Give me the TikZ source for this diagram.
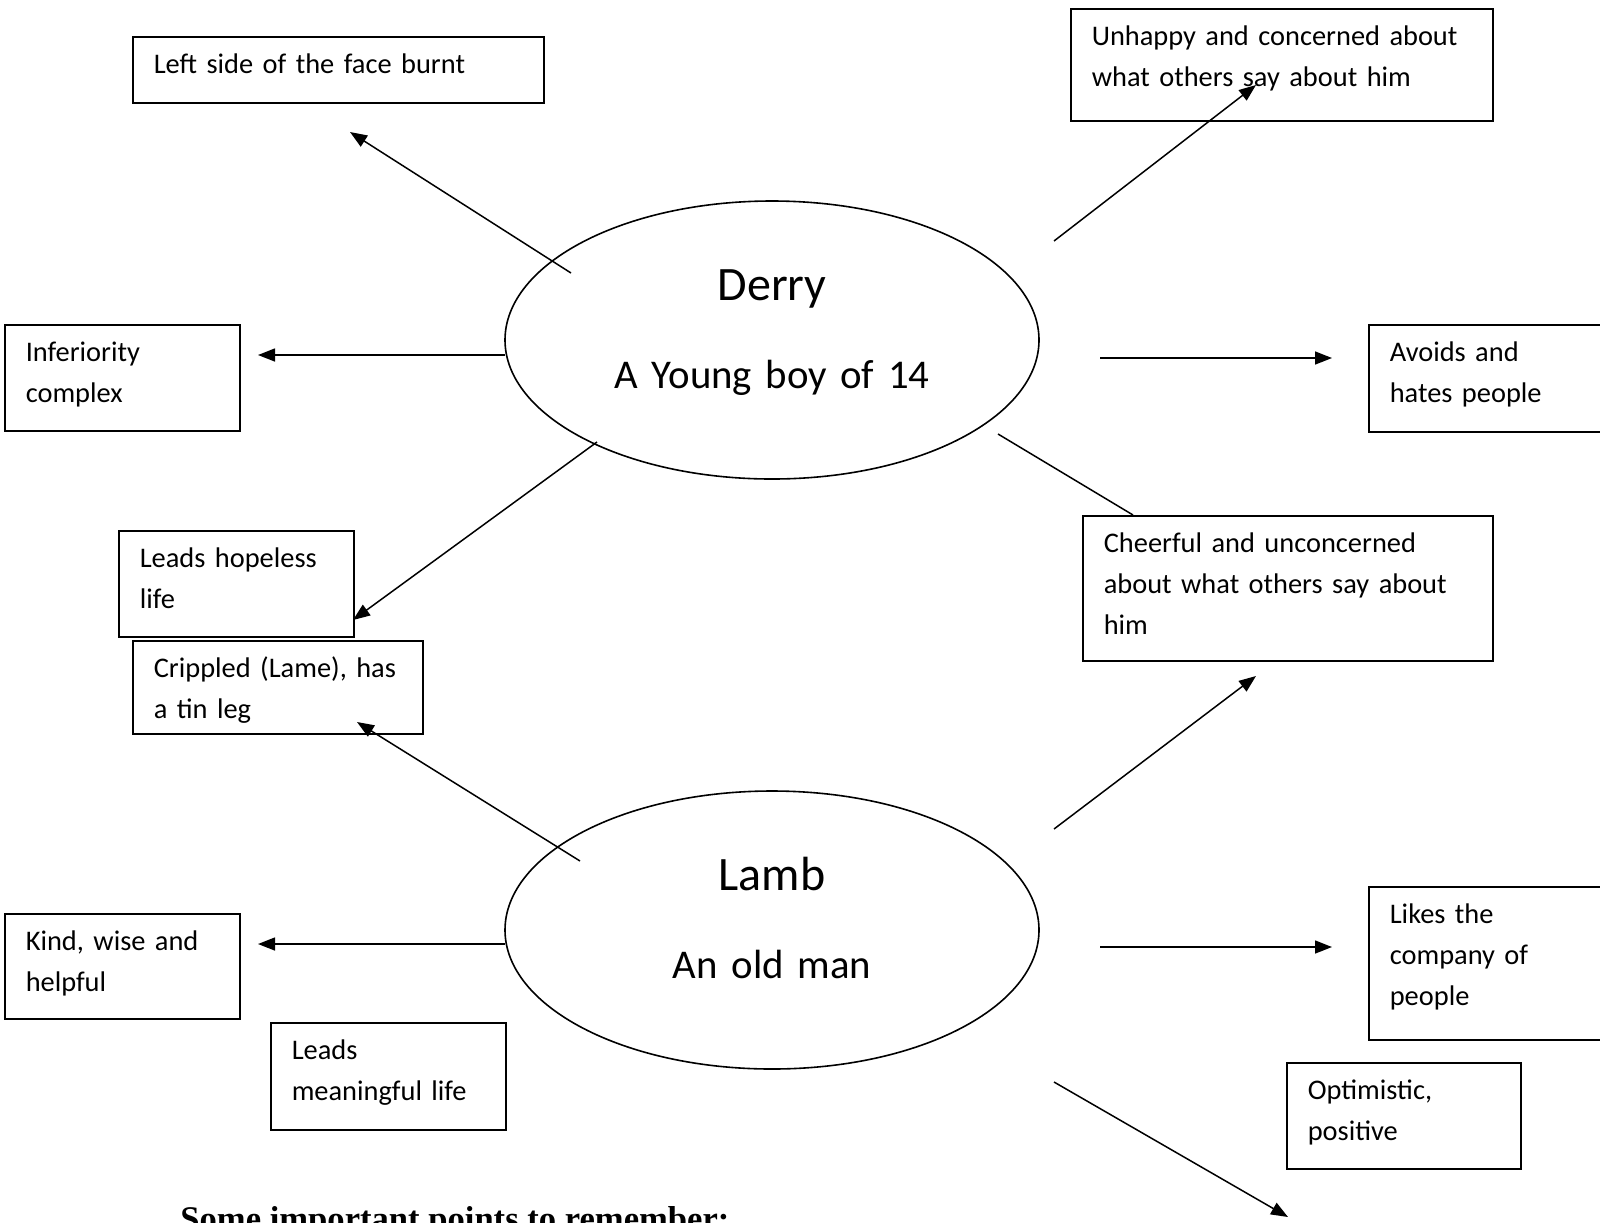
\documentclass[tikz,border=0pt]{standalone}
\usepackage{fontspec}
\setmainfont{Carlito}
\newfontfamily\titlefont{Liberation Serif}
\usetikzlibrary{shapes.geometric,arrows.meta}

\tikzset{
    card/.style 2 args={draw, line width=0.8pt, anchor=north west, align=left,
        inner xsep=10.5pt, inner ysep=0pt, text width=#1, text height=18.4pt,
        text depth=#2, font=\fontsize{14.2}{20.5}\selectfont},
    person/.style={draw, ellipse, line width=0.8pt, minimum width=267pt,
        minimum height=139pt, inner sep=0pt, align=center, text width=170pt,
        text height=10pt, text depth=49.2pt,
        font=\fontsize{20.4}{43.6}\selectfont},
    arr/.style={line width=0.75pt, -{Triangle[length=8.5pt,width=6.5pt]}},
}
\newcommand{\personname}[1]{{\fontsize{24}{43.6}\selectfont #1}}

\begin{document}
\begin{tikzpicture}[x=0.5pt, y=-0.5pt]
    \useasboundingbox (0,0) rectangle (1600,1222);

    % the two characters
    \node[person] (derry) at (772,340) {\personname{Derry}\\A Young boy of 14};
    \node[person] (lamb) at (772,930) {\personname{Lamb}\\An old man};

    % traits
    \node[card={184.5pt}{14.6pt}] (burnt) at (132,36) {Left side of the face burnt};
    \node[card={190pt}{37.6pt}] (unhappy) at (1070,8) {Unhappy and concerned about\\what others say about him};
    \node[card={96.5pt}{34.6pt}] (inferior) at (4,324) {Inferiority\\complex};
    \node[card={99pt}{35.1pt}] (avoids) at (1368,324) {Avoids and\\hates people};
    \node[card={96.5pt}{34.6pt}] (hopeless) at (118,530) {Leads hopeless\\life};
    \node[card={184pt}{54.1pt}] (cheerful) at (1082,515) {Cheerful and unconcerned\\about what others say about\\him};
    \node[card={124pt}{28.1pt}] (crippled) at (132,640) {Crippled~(Lame),~has\\a tin leg};
    \node[card={96.5pt}{34.1pt}] (kind) at (4,913) {Kind, wise and\\helpful};
    \node[card={99pt}{58.1pt}] (likes) at (1368,886) {Likes the\\company of\\people};
    \node[card={96.5pt}{35.1pt}] (meaningful) at (270,1022) {Leads\\meaningful life};
    \node[card={96pt}{34.6pt}] (optimistic) at (1286,1062) {Optimistic,\\positive};

    \node[anchor=north west, inner sep=0pt, font=\titlefont\bfseries\fontsize{17.3}{20}\selectfont] (remember) at (180,1206) {Some important points to remember:};

    % arrow ends
    \coordinate (dA) at (571,273);  \coordinate (dA') at (350,132);
    \coordinate (dB) at (505,355);  \coordinate (dB') at (258,355);
    \coordinate (dC) at (597,442);  \coordinate (dC') at (353,620);
    \coordinate (dD) at (1054,241); \coordinate (dD') at (1256,85);
    \coordinate (dE) at (1100,358); \coordinate (dE') at (1332,358);
    \coordinate (dF) at (998,434);  \coordinate (dF') at (1133,515);
    \coordinate (lA) at (580,861);  \coordinate (lA') at (357,722);
    \coordinate (lB) at (505,944);  \coordinate (lB') at (258,944);
    \coordinate (lC) at (1054,829); \coordinate (lC') at (1256,676);
    \coordinate (lD) at (1100,947); \coordinate (lD') at (1332,947);
    \coordinate (lE) at (1054,1082); \coordinate (lE') at (1288,1217);

    \draw[arr] (dA) -- (dA');
    \draw[arr] (dB) -- (dB');
    \draw[arr] (dC) -- (dC');
    \draw[arr] (dD) -- (dD');
    \draw[arr] (dE) -- (dE');
    \draw[line width=0.75pt] (dF) -- (dF');
    \draw[arr] (lA) -- (lA');
    \draw[arr] (lB) -- (lB');
    \draw[arr] (lC) -- (lC');
    \draw[arr] (lD) -- (lD');
    \draw[arr] (lE) -- (lE');
\end{tikzpicture}
\end{document}
